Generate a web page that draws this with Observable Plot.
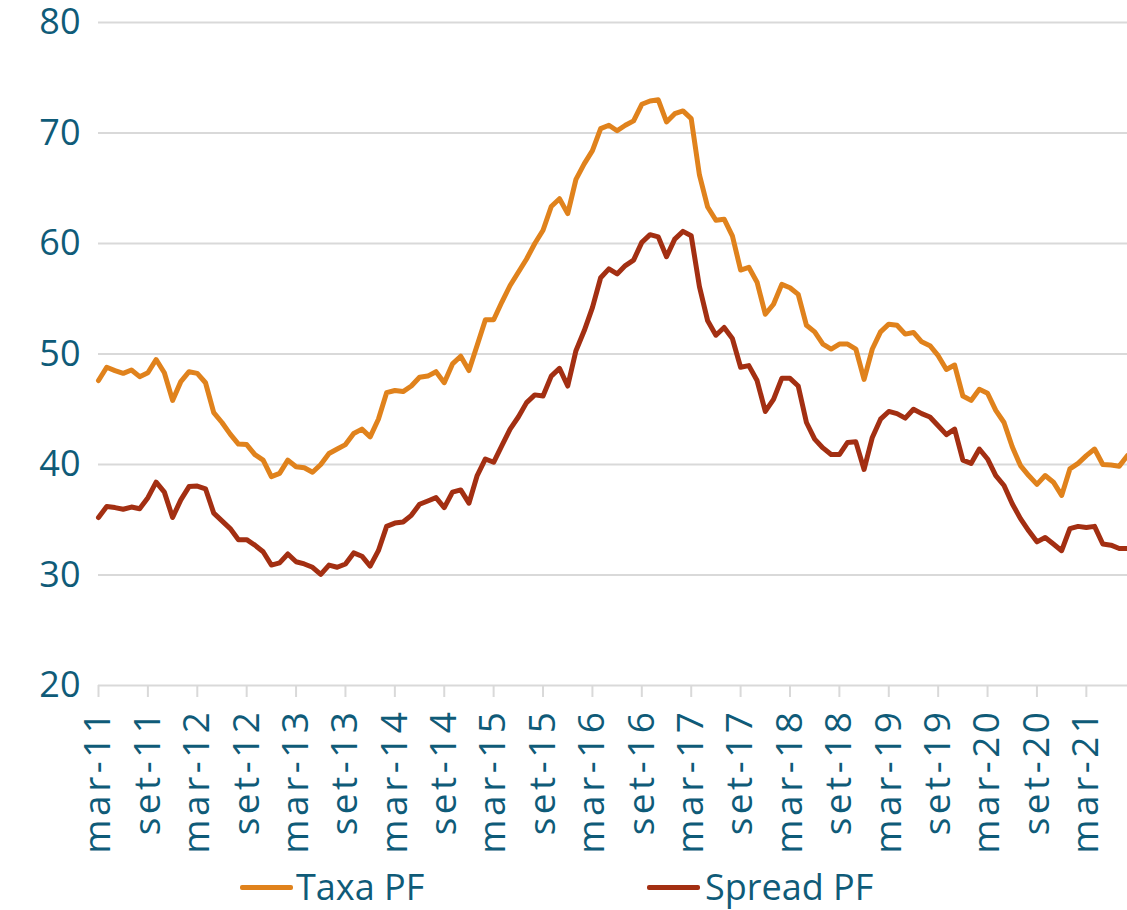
<!DOCTYPE html>
<html>
<head>
<meta charset="utf-8">
<script src="https://cdn.jsdelivr.net/npm/d3@7"></script>
<script src="https://cdn.jsdelivr.net/npm/@observablehq/plot@0.6"></script>
<style>
  html, body { margin: 0; padding: 0; background: #fff; }
  #wrap { width: 1127px; height: 910px; position: relative; font-family: "Open Sans", sans-serif; color: #0F5B78; }
  #legend { position: absolute; left: 0; top: 860px; width: 1127px; height: 50px; }
  .sw { position: absolute; height: 5px; border-radius: 2px; top: 25px; }
  .lt { position: absolute; font-size: 36px; line-height: 36px; top: 9px; white-space: nowrap; }
  .pfchart g[aria-label="x-axis tick label"] text { letter-spacing: 3.5px; }
</style>
</head>
<body>
<div id="wrap">
  <div id="chart"></div>
  <div id="legend">
    <div class="sw" style="left:240px;width:53px;background:#E0821C"></div>
    <div class="lt" style="left:296px">Taxa PF</div>
    <div class="sw" style="left:647px;width:53px;background:#A32F12"></div>
    <div class="lt" style="left:705px">Spread PF</div>
  </div>
</div>
<script>
const monthNames = ["jan","fev","mar","abr","mai","jun","jul","ago","set","out","nov","dez"];

const taxaPF = [
  47.6, 48.8, 48.5, 48.25, 48.55, 47.95, 48.3, 49.5, 48.3, 45.8, 47.5, 48.4, 48.25, 47.4, 44.7, 43.8, 42.75, 41.85, 41.8, 40.9, 40.4, 38.9, 39.2, 40.4, 39.8,
  39.7, 39.3, 40.0, 41.0, 41.4, 41.8, 42.8, 43.2, 42.5, 44.1, 46.5, 46.7, 46.6, 47.1, 47.9, 48.0, 48.4, 47.4, 49.1, 49.8, 48.5, 50.8, 53.1, 53.1,
  54.7, 56.2, 57.4, 58.6, 60.0, 61.2, 63.35, 64.05, 62.7, 65.8, 67.2, 68.4, 70.4, 70.7, 70.2, 70.7, 71.1, 72.6, 72.9, 73.0, 71.0, 71.75, 72.0, 71.3,
  66.2, 63.3, 62.1, 62.2, 60.7, 57.6, 57.85, 56.5, 53.6, 54.5, 56.3, 56.0, 55.4, 52.6, 52.0, 50.9, 50.45, 50.9, 50.9, 50.45, 47.7, 50.45, 52.0, 52.7, 52.6, 51.8,
  51.95, 51.1, 50.75, 49.85, 48.6, 49.0, 46.2, 45.8, 46.8, 46.45, 44.9, 43.8, 41.6, 39.9, 39.0, 38.2, 39.0, 38.4, 37.2, 39.6, 40.1, 40.8, 41.4, 40.0, 39.95, 39.85, 40.8
];

const spreadPF = [
  35.2, 36.2, 36.1, 35.95, 36.15, 36.0, 37.0, 38.4, 37.5, 35.2, 36.8, 38.0, 38.05, 37.8, 35.6, 34.9, 34.2, 33.2, 33.2, 32.7, 32.1, 30.9, 31.1, 31.9, 31.2,
  31.0, 30.7, 30.05, 30.9, 30.7, 31.0, 32.0, 31.7, 30.8, 32.2, 34.4, 34.7, 34.8, 35.4, 36.4, 36.7, 37.0, 36.1, 37.5, 37.7, 36.5, 39.0, 40.5, 40.2,
  41.7, 43.2, 44.3, 45.6, 46.3, 46.2, 48.0, 48.7, 47.1, 50.3, 52.1, 54.2, 56.9, 57.7, 57.25, 58.0, 58.5, 60.1, 60.8, 60.6, 58.8, 60.4, 61.1, 60.7,
  56.1, 53.0, 51.7, 52.4, 51.4, 48.8, 48.95, 47.6, 44.8, 45.9, 47.8, 47.8, 47.1, 43.8, 42.3, 41.5, 40.9, 40.9, 42.0, 42.05, 39.55, 42.45, 44.1, 44.8, 44.6, 44.2,
  45.0, 44.6, 44.3, 43.5, 42.7, 43.2, 40.4, 40.1, 41.4, 40.5, 39.0, 38.1, 36.45, 35.1, 34.0, 33.0, 33.4, 32.8, 32.2, 34.2, 34.4, 34.3, 34.4, 32.8, 32.7, 32.4, 32.4
];

const tickLabels = ["mar-11","set-11","mar-12","set-12","mar-13","set-13","mar-14","set-14","mar-15","set-15",
  "mar-16","set-16","mar-17","set-17","mar-18","set-18","mar-19","set-19","mar-20","set-20","mar-21"];

const yTicks = [20, 30, 40, 50, 60, 70, 80];
const gridValues = [30, 40, 50, 60, 70, 80];

// month categories: first month is mar-11
const months = taxaPF.map((_, i) => {
  const k = 2 + i;
  return monthNames[k % 12] + "-" + (11 + Math.floor(k / 12));
});

const taxaRows = months.map((m, i) => ({month: m, value: taxaPF[i]}));
const spreadRows = months.map((m, i) => ({month: m, value: spreadPF[i]}));

const textColor = "#0F5B78";
const gridColor = "#D9D9D9";

const chart = Plot.plot({
  width: 1127,
  height: 860,
  marginLeft: 98,
  marginRight: 0,
  marginTop: 22,
  marginBottom: 175,
  className: "pfchart",
  style: {fontFamily: "'Open Sans', sans-serif", fontSize: "36px", color: textColor, background: "white", overflow: "visible"},
  x: {type: "point", domain: months, padding: 0, round: false, label: null},
  y: {domain: [20, 80], label: null},
  marks: [
    Plot.ruleY(gridValues, {stroke: gridColor, strokeWidth: 2}),
    Plot.ruleY([20], {stroke: gridColor, strokeWidth: 2}),
    Plot.axisY({ticks: yTicks, tickSize: 0, tickPadding: 18, fontSize: 36, fill: textColor, label: null}),
    Plot.axisX({ticks: tickLabels, tickSize: 12, tickPadding: 11, tickRotate: -90, stroke: gridColor, strokeWidth: 2,
                strokeOpacity: 1, fill: textColor, fontSize: 37, label: null}),
    Plot.line(taxaRows, {x: "month", y: "value", stroke: "#E0821C", strokeWidth: 5, strokeLinejoin: "round", strokeLinecap: "round"}),
    Plot.line(spreadRows, {x: "month", y: "value", stroke: "#A32F12", strokeWidth: 5, strokeLinejoin: "round", strokeLinecap: "round"})
  ]
});
document.getElementById("chart").appendChild(chart);
</script>
</body>
</html>
